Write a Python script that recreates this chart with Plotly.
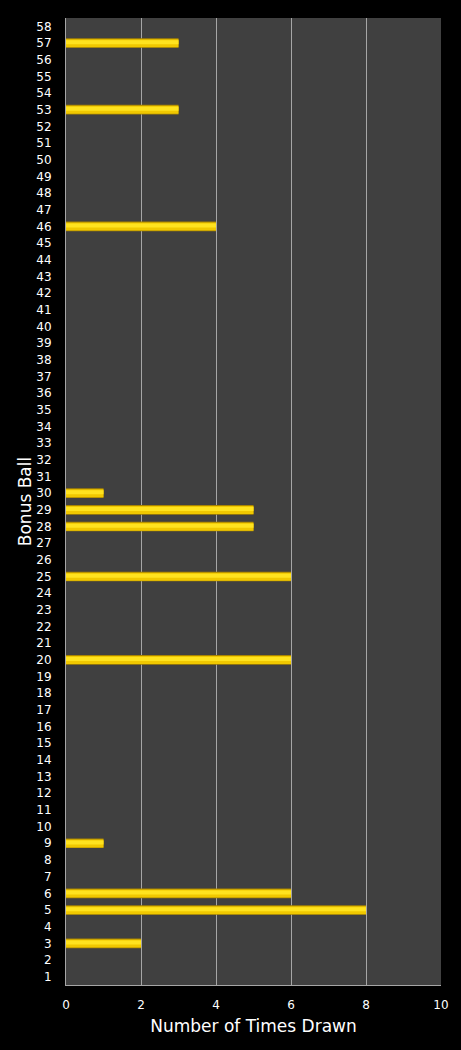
import plotly.graph_objects as go

balls = [str(i) for i in range(1, 59)]
drawn_balls = ["3", "5", "6", "9", "20", "25", "28", "29", "30", "46", "53", "57"]
drawn_counts = [2, 8, 6, 1, 6, 6, 5, 5, 1, 4, 3, 3]
x_ticks = [0, 2, 4, 6, 8, 10]

counts_map = dict(zip(drawn_balls, drawn_counts))
values = [counts_map.get(b, 0) for b in balls]

fig = go.Figure()
# darker gold base (gives shaded edge)
fig.add_trace(go.Bar(
    y=balls, x=values, orientation="h", width=0.58,
    marker=dict(color="#A88400", line=dict(width=0)),
    hoverinfo="skip", showlegend=False,
))
# main bright body
fig.add_trace(go.Bar(
    y=balls, x=values, orientation="h", width=0.48, offset=-0.25,
    marker=dict(color="#F0C800", line=dict(width=0)),
    showlegend=False,
))
# highlight
fig.add_trace(go.Bar(
    y=balls, x=values, orientation="h", width=0.24, offset=-0.07,
    marker=dict(color="#FFE31F", line=dict(width=0)),
    hoverinfo="skip", showlegend=False,
))

fig.update_layout(
    width=461, height=1050,
    margin=dict(l=66, r=20, t=18, b=65),
    paper_bgcolor="#000000",
    plot_bgcolor="#404040",
    barmode="overlay",
    font=dict(family="DejaVu Sans", color="#FFFFFF", size=12),
    xaxis=dict(
        range=[0, 10], tickvals=x_ticks, ticktext=[str(t) for t in x_ticks],
        showgrid=True, gridcolor="#A6A6A6", gridwidth=1,
        zeroline=False, showline=True, linecolor="#A6A6A6", linewidth=1,
        ticks="", ticklabelstandoff=9, tickfont=dict(size=12, color="#FFFFFF"),
        title=dict(text="Number of Times Drawn", font=dict(size=17, color="#FFFFFF"), standoff=8),
        fixedrange=True,
    ),
    yaxis=dict(
        type="category", categoryorder="array", categoryarray=balls,
        tickmode="array", tickvals=balls, ticktext=balls,
        range=[-0.5, 57.5],
        showgrid=False, zeroline=False, showline=True, linecolor="#A6A6A6", linewidth=1,
        ticks="", ticklabelstandoff=11, tickfont=dict(size=12, color="#FFFFFF"),
        title=dict(text="Bonus Ball", font=dict(size=17, color="#FFFFFF"), standoff=0),
        fixedrange=True,
    ),
)

fig.write_html(
    "out.html",
    config={"displayModeBar": False},
    post_script="document.body.style.margin='0';document.body.style.background='#000';",
)
